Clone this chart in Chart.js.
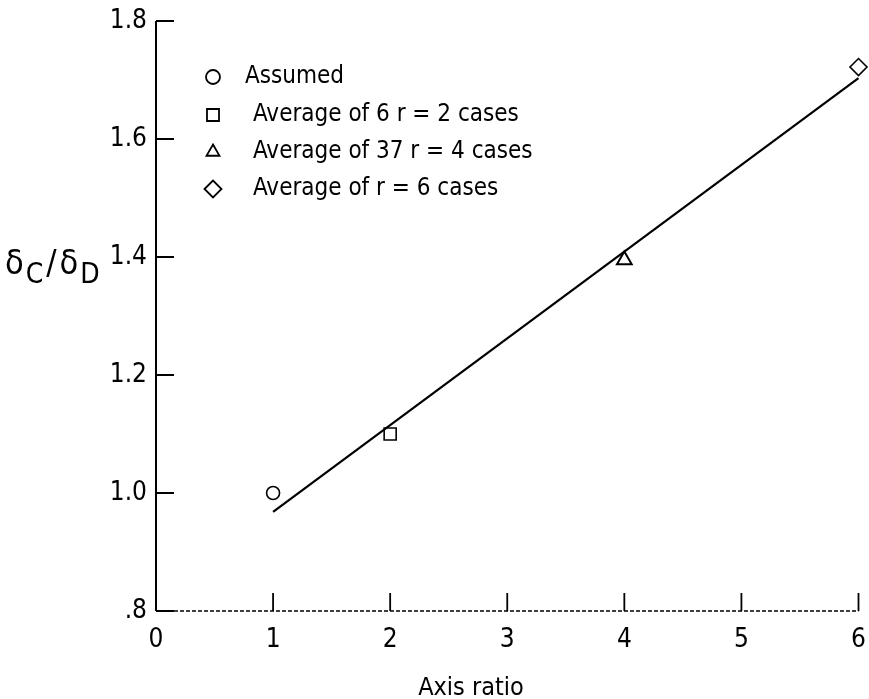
<!DOCTYPE html>
<html><head><meta charset="utf-8">
<script src="https://cdn.jsdelivr.net/npm/chart.js@4"></script>
<style>html,body{margin:0;padding:0;background:#fff}#wrap{width:869px;height:699px}</style>
</head><body><div id="wrap"><canvas id="c" width="869" height="699"></canvas></div>
<script>
const FONT = "'Liberation Sans Narrow','DejaVu Sans Condensed','Arial Narrow',sans-serif";
const xTicks = [0,1,2,3,4,5,6];
const yTicks = [0.8,1.0,1.2,1.4,1.6,1.8];
const yTickLabels = {"0.8":".8","1":"1.0","1.2":"1.2","1.4":"1.4","1.6":"1.6","1.8":"1.8"};
const assumedX = [1], assumedY = [1.0];
const r2X = [2], r2Y = [1.1];
const r4X = [4], r4Y = [1.395];
const r6X = [6], r6Y = [1.722];
const fitX = [1,6], fitY = [0.968,1.703];
const legendLabels = ["Assumed","Average of 6 r = 2 cases","Average of 37 r = 4 cases","Average of r = 6 cases"];
const legendStyles = ["circle","rect","triangle","rectRot"];
const xTitle = "Axis ratio";

const pts = (xs,ys)=>xs.map((x,i)=>({x:x,y:ys[i]}));

const overlay = {
  id:'overlay',
  afterDraw(chart){
    const ctx = chart.ctx, xs = chart.scales.x, ys = chart.scales.y;
    const ca = chart.chartArea;
    ctx.save();
    ctx.strokeStyle='#000'; ctx.lineWidth=2; ctx.setLineDash([]);
    ctx.beginPath(); ctx.moveTo(ca.left, ys.getPixelForValue(1.8)); ctx.lineTo(ca.left, ys.getPixelForValue(0.8)); ctx.stroke();
    yTicks.forEach(v=>{const y=ys.getPixelForValue(v);ctx.beginPath();ctx.moveTo(ca.left,y);ctx.lineTo(ca.left+18,y);ctx.stroke();});
    ctx.lineWidth=1.4; ctx.setLineDash([4,2]);
    ctx.beginPath(); ctx.moveTo(ca.left, ys.getPixelForValue(0.8)); ctx.lineTo(xs.getPixelForValue(6), ys.getPixelForValue(0.8)); ctx.stroke();
    ctx.setLineDash([]); ctx.lineWidth=1.8;
    xTicks.slice(1).forEach(v=>{const x=xs.getPixelForValue(v);const y=ys.getPixelForValue(0.8);ctx.beginPath();ctx.moveTo(x,y);ctx.lineTo(x,y-18);ctx.stroke();});
    // legend
    const lx=213, ty=[77,115,152,189], lr=[7,8.5,7.5,8.5];
    legendLabels.forEach((t,i)=>{
      ctx.fillStyle='rgba(0,0,0,0)'; ctx.strokeStyle='#000'; ctx.lineWidth=1.8;
      Chart.helpers.drawPoint(ctx,{pointStyle:legendStyles[i],radius:lr[i],borderWidth:1.8,rotation:0},lx,ty[i]);
      ctx.fillStyle='#000';
      ctx.font='24px '+FONT; ctx.textBaseline='middle'; ctx.textAlign='left';
      ctx.fillText(t, i===0?245:253, ty[i]);
    });
    // y title: δC/δD
    ctx.fillStyle='#000';
    let x=5, yb=274;
    ctx.textBaseline='alphabetic'; ctx.textAlign='left';
    ctx.font='34px '+FONT; ctx.fillText('δ',x,yb); x+=ctx.measureText('δ').width+2;
    ctx.font='28px '+FONT; ctx.fillText('C',x,yb+9); x+=ctx.measureText('C').width+3;
    ctx.font='34px '+FONT; ctx.fillText('/',x,yb); x+=ctx.measureText('/').width+3;
    ctx.fillText('δ',x,yb); x+=ctx.measureText('δ').width+2;
    ctx.font='28px '+FONT; ctx.fillText('D',x,yb+9);
    // x title
    ctx.font='25px '+FONT; ctx.textAlign='center'; ctx.textBaseline='middle';
    ctx.fillText(xTitle, 471, 688);
    ctx.restore();
  }
};

const mk = (lbl,d,style,r,bw)=>({label:lbl,data:d,pointStyle:style,pointRadius:r,borderColor:'#000',backgroundColor:'rgba(0,0,0,0)',borderWidth:bw,clip:false});

new Chart(document.getElementById('c'),{
  type:'scatter',
  data:{datasets:[
    {label:'fit',type:'line',data:pts(fitX,fitY),borderColor:'#000',borderWidth:2.2,pointRadius:0,fill:false,tension:0,clip:false},
    mk(legendLabels[0],pts(assumedX,assumedY),'circle',6.5,1.6),
    mk(legendLabels[1],pts(r2X,r2Y),'rect',8.5,1.6),
    mk(legendLabels[2],pts(r4X,r4Y),'triangle',8.5,2),
    mk(legendLabels[3],pts(r6X,r6Y),'rectRot',8.5,1.6)
  ]},
  options:{
    responsive:false, animation:false, maintainAspectRatio:false,
    layout:{padding:{left:0,right:9,top:21,bottom:0}},
    plugins:{legend:{display:false},tooltip:{enabled:false}},
    scales:{
      x:{type:'linear',min:0,max:6,
        afterBuildTicks(s){s.ticks=xTicks.map(v=>({value:v}));},
        afterFit(s){s.height=88;s.paddingLeft=0;s.paddingRight=0;},
        grid:{display:false,drawTicks:false},border:{display:false},
        ticks:{color:'#000',font:{family:FONT,size:26},padding:14,maxRotation:0,autoSkip:false}},
      y:{type:'linear',min:0.8,max:1.8,
        afterBuildTicks(s){s.ticks=yTicks.map(v=>({value:v}));},
        afterFit(s){s.width=156;s.paddingTop=0;s.paddingBottom=0;},
        grid:{display:false,drawTicks:false},border:{display:false},
        ticks:{color:'#000',font:{family:FONT,size:26},padding:9,autoSkip:false,
          callback:(v)=>yTickLabels[String(Math.round(v*10)/10)]}}
    }
  },
  plugins:[overlay]
});
</script></body></html>
